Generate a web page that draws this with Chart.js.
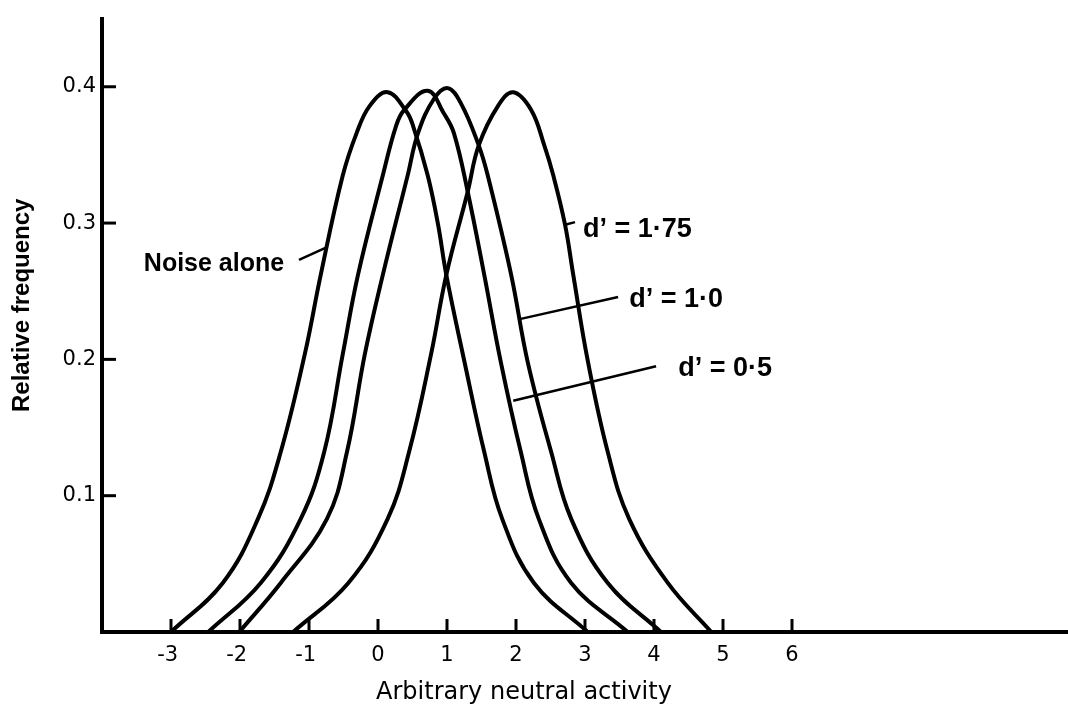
<!DOCTYPE html>
<html><head><meta charset="utf-8">
<script src="https://cdn.jsdelivr.net/npm/chart.js@4/dist/chart.umd.min.js"></script>
<style>html,body{margin:0;padding:0;background:#fff;}#wrap{width:1068px;height:712px;}</style>
</head><body><div id="wrap"><canvas id="c" width="1068" height="712"></canvas></div>
<script>
// ---- data ----
const xTickValues = [-3,-2,-1,0,1,2,3,4,5,6];
const xTickLabels = ['-3','-2','-1','0','1','2','3','4','5','6'];
const yTickValues = [0.1,0.2,0.3,0.4];
const yTickLabels = ['0.1','0.2','0.3','0.4'];
const seriesNames = ['Noise alone','d’ = 0·5','d’ = 1·0','d’ = 1·75'];

const noiseX = [-3.00,-2.25,-1.74,-1.41,-1.06,-0.83,-0.51,-0.31,-0.12,0.14,0.41,0.51,0.72,0.87,0.99,1.25,1.54,1.80,2.26,3.04];
const noiseY = [0,0.036,0.083,0.132,0.204,0.262,0.335,0.366,0.386,0.396,0.382,0.371,0.335,0.299,0.262,0.199,0.132,0.083,0.036,0];

const d05X = [-2.46,-1.70,-1.12,-0.78,-0.51,-0.29,0.07,0.26,0.38,0.72,0.96,1.10,1.30,1.54,1.78,2.07,2.33,2.80,3.62];
const d05Y = [0,0.036,0.083,0.132,0.204,0.262,0.335,0.371,0.383,0.397,0.380,0.366,0.323,0.262,0.198,0.132,0.083,0.036,0];

const d10X = [-2.01,-1.41,-0.74,-0.45,-0.19,0.07,0.43,0.58,0.81,1.01,1.20,1.46,1.59,1.93,2.17,2.51,2.80,3.33,4.10];
const d10Y = [0,0.036,0.083,0.132,0.204,0.262,0.335,0.366,0.391,0.399,0.388,0.357,0.335,0.262,0.198,0.132,0.083,0.036,0];

const d175X = [-1.23,-0.43,0.14,0.45,0.77,0.99,1.30,1.46,1.74,1.96,2.22,2.41,2.54,2.71,2.83,3.04,3.33,3.64,4.20,4.83];
const d175Y = [0,0.036,0.083,0.132,0.204,0.262,0.323,0.357,0.386,0.396,0.383,0.357,0.335,0.299,0.262,0.199,0.132,0.083,0.036,0];

// ---- annotations (data units) ----
const annotTexts = ['Noise alone','d’ = 1·75','d’ = 1·0','d’ = 0·5'];
const annotTextX = [-1.36, 2.97, 3.64, 4.35];
const annotTextY = [0.270, 0.295, 0.244, 0.1935];
const annotAlign = ['right','left','left','left'];
const leaderFromX = [-1.145, 2.70, 2.07, 1.96];
const leaderFromY = [0.273, 0.2986, 0.2297, 0.1696];
const leaderToX = [-0.754, 2.855, 3.48, 4.03];
const leaderToY = [0.282, 0.3007, 0.2457, 0.1949];

const toPts = (xs, ys) => xs.map((x,i)=>({x, y: ys[i]}));
const seriesX = [noiseX, d05X, d10X, d175X];
const seriesY = [noiseY, d05Y, d10Y, d175Y];

const inwardTicks = {
  id: 'inwardTicks',
  afterDraw(chart) {
    const {ctx, chartArea: a, scales: {x, y}} = chart;
    ctx.save();
    ctx.strokeStyle = '#000';
    ctx.lineWidth = 3;
    ctx.lineCap = 'butt';
    x.ticks.forEach(t => {
      const px = x.getPixelForValue(t.value);
      ctx.beginPath(); ctx.moveTo(px, a.bottom); ctx.lineTo(px, a.bottom - 13); ctx.stroke();
    });
    y.ticks.forEach(t => {
      const py = y.getPixelForValue(t.value);
      ctx.beginPath(); ctx.moveTo(a.left, py); ctx.lineTo(a.left + 14, py); ctx.stroke();
    });
    ctx.restore();
  }
};

const annotations = {
  id: 'annotations',
  afterDatasetsDraw(chart) {
    const {ctx, scales: {x, y}} = chart;
    ctx.save();
    ctx.strokeStyle = '#000';
    ctx.lineWidth = 2.5;
    leaderFromX.forEach((fx, i) => {
      ctx.beginPath();
      ctx.moveTo(x.getPixelForValue(fx), y.getPixelForValue(leaderFromY[i]));
      ctx.lineTo(x.getPixelForValue(leaderToX[i]), y.getPixelForValue(leaderToY[i]));
      ctx.stroke();
    });
    ctx.fillStyle = '#000';
    ctx.textBaseline = 'middle';
    annotTexts.forEach((t, i) => {
      ctx.font = (i === 0 ? 'bold 25px' : 'bold 27px') + ' "Liberation Sans", Arial, sans-serif';
      ctx.textAlign = annotAlign[i];
      ctx.fillText(t, x.getPixelForValue(annotTextX[i]), y.getPixelForValue(annotTextY[i]));
    });
    ctx.restore();
  }
};

new Chart(document.getElementById('c'), {
  type: 'scatter',
  data: {
    datasets: seriesNames.map((n, i) => ({
      label: n,
      data: toPts(seriesX[i], seriesY[i]),
      showLine: true,
      borderColor: '#000',
      backgroundColor: '#000',
      borderWidth: 4,
      pointRadius: 0,
      tension: 0.4,
      fill: false
    }))
  },
  options: {
    responsive: false,
    animation: false,
    devicePixelRatio: 1,
    layout: { padding: { top: 11, right: 0, left: 0, bottom: 0 } },
    plugins: { legend: { display: false }, tooltip: { enabled: false } },
    scales: {
      x: {
        type: 'linear', min: -4, max: 10,
        grid: { display: false, drawTicks: false },
        border: { display: true, color: '#000', width: 4 },
        afterBuildTicks: s => { s.ticks = xTickValues.map(v => ({ value: v })); },
        afterFit: s => { s.height = 80; },
        ticks: {
          color: '#000', padding: 11, maxRotation: 0, autoSkip: false,
          font: { family: '"DejaVu Sans"', size: 21 },
          callback: (v) => { const i = xTickValues.indexOf(v); return i < 0 ? '' : xTickLabels[i] + (v < 0 ? ' ' : ''); }
        },
        title: {
          display: true,
          text: 'Arbitrary neutral activity' + ' '.repeat(16),
          color: '#000',
          font: { family: '"DejaVu Sans"', size: 24 },
          padding: { top: 0, bottom: 5 }
        }
      },
      y: {
        type: 'linear', min: 0, max: 0.45,
        grid: { display: false, drawTicks: false },
        border: { display: true, color: '#000', width: 4 },
        afterBuildTicks: s => { s.ticks = yTickValues.map(v => ({ value: v })); },
        afterFit: s => { s.width = 102; },
        ticks: {
          color: '#000', padding: 6, autoSkip: false,
          font: { family: '"DejaVu Sans"', size: 21 },
          callback: (v) => { const i = yTickValues.indexOf(v); return i < 0 ? '' : yTickLabels[i]; }
        },
        title: {
          display: true,
          text: ' '.repeat(6) + 'Relative frequency',
          color: '#000',
          font: { family: '"Liberation Sans", Arial, sans-serif', size: 24, weight: 'bold' },
          padding: { top: 8, bottom: 0 }
        }
      }
    }
  },
  plugins: [inwardTicks, annotations]
});
</script>
</body></html>
